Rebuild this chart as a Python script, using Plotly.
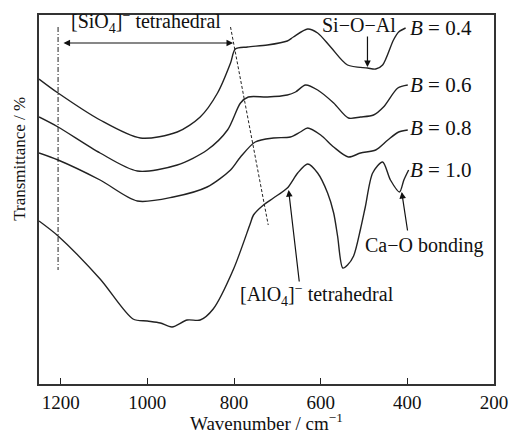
import plotly.graph_objects as go

# Wavenumber (cm^-1) and transmittance (arbitrary units)
wn_b04 = [1250, 1206, 1109, 1016, 931, 878, 838, 808, 797, 769, 723, 677, 663, 630, 607, 577, 538, 492, 473, 457, 432, 420, 404]
t_b04 = [305, 291, 264, 246, 252, 267, 291, 321, 335, 337, 339, 343, 347, 355, 351, 337, 319, 316, 315, 319, 344, 352, 356]

wn_b06 = [1250, 1206, 1109, 1023, 931, 862, 815, 785, 767, 723, 677, 658, 635, 607, 570, 536, 508, 478, 455, 422, 399]
t_b06 = [267, 257, 231, 213, 219, 234, 254, 281, 287, 287, 289, 292, 299, 294, 281, 266, 267, 269, 277, 296, 299]

wn_b08 = [1250, 1206, 1109, 1023, 940, 862, 808, 785, 751, 709, 670, 647, 630, 600, 570, 536, 508, 473, 445, 420, 399]
t_b08 = [231, 224, 204, 183, 187, 197, 214, 227, 242, 246, 247, 252, 256, 249, 237, 227, 231, 234, 244, 252, 254]

wn_b10 = [1250, 1206, 1109, 1033, 1000, 970, 943, 908, 878, 848, 801, 762, 755, 732, 709, 677, 653, 630, 607, 584, 570, 561, 549, 538, 524, 508, 497, 480, 457, 439, 418, 408, 397]
t_b10 = [163, 148, 105, 65, 63, 61, 57, 64, 64, 75, 115, 161, 169, 179, 186, 196, 211, 220, 211, 191, 171, 148, 116, 119, 128, 155, 177, 211, 222, 204, 192, 204, 214]

series = [("B = 0.4", wn_b04, t_b04), ("B = 0.6", wn_b06, t_b06),
          ("B = 0.8", wn_b08, t_b08), ("B = 1.0", wn_b10, t_b10)]

tick_vals = [1200, 1000, 800, 600, 400, 200]
tick_text = ["1200", "1000", "800", "600", "400", "200"]

# guide lines
vline_x = [1206, 1206]
vline_y = [357, 114]
slant_x = [808, 721]
slant_y = [357, 159]

FONT = "Liberation Serif"

fig = go.Figure()
for name, x, y in series:
    fig.add_trace(go.Scatter(x=x, y=y, mode="lines", name=name,
                             line=dict(color="#222", width=1.4, shape="spline", smoothing=0.8),
                             showlegend=False, hoverinfo="skip"))

fig.add_trace(go.Scatter(x=vline_x, y=vline_y, mode="lines",
                         line=dict(color="#222", width=1, dash="5px,2px,1px,2px"), showlegend=False))
fig.add_trace(go.Scatter(x=slant_x, y=slant_y, mode="lines",
                         line=dict(color="#222", width=1, dash="3px,2px"), showlegend=False))

ann = []
def text(x, y, s, xanchor="center", size=20):
    ann.append(dict(x=x, y=y, xref="x", yref="y", text=s, showarrow=False,
                    xanchor=xanchor, yanchor="middle", font=dict(family=FONT, size=size, color="#111")))

def arrow(x0, y0, x1, y1, both=False):
    ann.append(dict(x=x1, y=y1, ax=x0, ay=y0, xref="x", yref="y", axref="x", ayref="y",
                    text="", showarrow=True, arrowhead=2, arrowsize=1.1, arrowwidth=1.2,
                    arrowcolor="#111", arrowside="end+start" if both else "end",
                    startarrowhead=2, startarrowsize=1.1))

text(1003, 362, "[SiO<sub>4</sub>]<sup>−</sup> tetrahedral")
arrow(1197, 341, 802, 341, both=True)
text(512, 359, "Si−O−Al")
arrow(492, 349, 492, 317)
text(398, 356, "<i>B</i> = 0.4", xanchor="left", size=21)
text(398, 299, "<i>B</i> = 0.6", xanchor="left", size=21)
text(398, 256, "<i>B</i> = 0.8", xanchor="left", size=21)
text(398, 214, "<i>B</i> = 1.0", xanchor="left", size=21)
text(502, 139, "Ca−O bonding", xanchor="left")
arrow(399, 152, 413, 192)
text(790, 89, "[AlO<sub>4</sub>]<sup>−</sup> tetrahedral", xanchor="left")
arrow(649, 101, 674, 194)

ann.append(dict(x=-0.042, y=0.61, xref="paper", yref="paper", text="Transmittance / %",
                showarrow=False, textangle=-90, xanchor="center", yanchor="middle",
                font=dict(family=FONT, size=17, color="#111")))
ann.append(dict(x=0.5, y=-0.103, xref="paper", yref="paper", text="Wavenumber / cm<sup>−1</sup>",
                showarrow=False, xanchor="center", yanchor="middle",
                font=dict(family=FONT, size=19, color="#111")))

fig.update_layout(
    width=509, height=432, margin=dict(l=39, r=15, t=15, b=48, autoexpand=False),
    paper_bgcolor="white", plot_bgcolor="white", annotations=ann,
    font=dict(family=FONT, size=19, color="#111"),
)
fig.update_xaxes(range=[1250, 200], tickvals=tick_vals, ticktext=tick_text,
                 ticks="inside", ticklen=6, tickwidth=1.2, tickcolor="#222",
                 showline=True, linecolor="#333", linewidth=1.5, mirror=True,
                 showgrid=False, zeroline=False, automargin=False,
                 ticklabeloverflow="allow",
                 tickfont=dict(family=FONT, size=19))
fig.update_yaxes(range=[0, 369], showticklabels=False, ticks="",
                 showline=True, linecolor="#333", linewidth=1.5, mirror=True,
                 showgrid=False, zeroline=False, automargin=False)

fig.write_html("out.html", config={"displayModeBar": False},
               post_script="document.body.style.margin='0';document.body.style.overflow='hidden';")
